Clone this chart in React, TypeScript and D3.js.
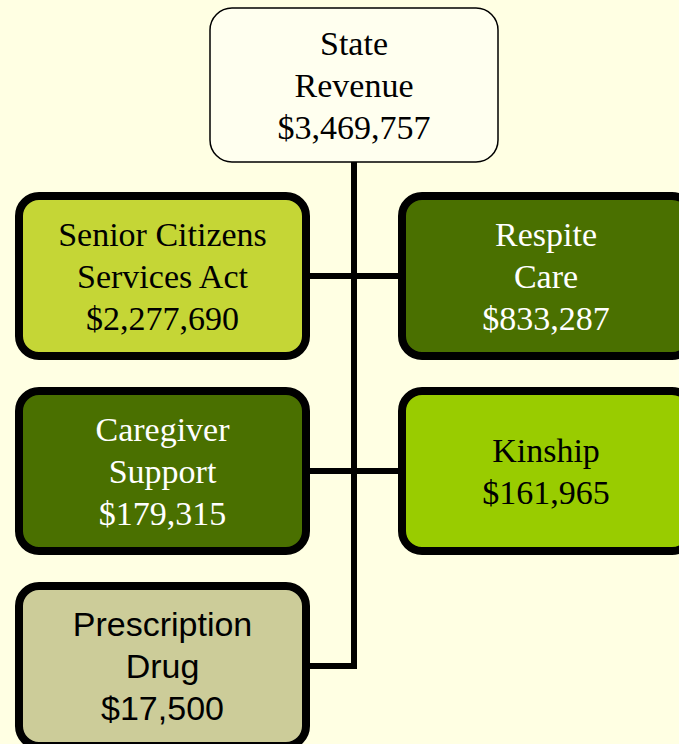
import React from 'react';
import * as d3 from 'd3';

const width = 679;
const height = 744;

// data
const rootLines = ['State', 'Revenue'];
const rootAmount = 3469757;
const programNames = [
  ['Senior Citizens', 'Services Act'],
  ['Respite', 'Care'],
  ['Caregiver', 'Support'],
  ['Kinship'],
  ['Prescription', 'Drug']
];
const programAmounts = [2277690, 833287, 179315, 161965, 17500];

// styling, one per program
const fills = ['#c5d636', '#4a7000', '#4a7000', '#99cc00', '#cccc99'];
const textColors = ['#000', '#fff', '#fff', '#000', '#000'];
const fontFamilies = ['serif', 'serif', 'serif', 'serif', 'sans'];

const fmt = d3.format('$,');

const serif = '"Liberation Serif", "Times New Roman", serif';
const sans = '"Liberation Sans", Arial, sans-serif';

const rowY = d3.scaleLinear().domain([0, 2]).range([196, 586]);
const colX = d3.scaleOrdinal<number, number>().domain([0, 1]).range([19, 402]);
const colW = d3.scaleOrdinal<number, number>().domain([0, 1]).range([287, 290]);
const colTextX = d3.scaleOrdinal<number, number>().domain([0, 1]).range([162.5, 546]);
const boxH = 160;
const lineGap = 42;
const spineX = 354;

const root = { x: 210, y: 8, w: 288, h: 154 };

function Lines({ lines, cx, cy, color, family }) {
  const n = lines.length;
  return (
    <text
      textAnchor="middle"
      fill={color}
      fontFamily={family}
      fontSize={34}
    >
      {lines.map((l, i) => (
        <tspan key={i} x={cx} y={cy + (i - (n - 1) / 2) * lineGap + 12}>
          {l}
        </tspan>
      ))}
    </text>
  );
}

export default function App() {
  const nodes = programNames.map((name, i) => {
    const col = i % 2;
    const row = Math.floor(i / 2);
    const x = colX(col);
    const y = rowY(row);
    return {
      i,
      col,
      x,
      y,
      w: colW(col),
      cy: y + boxH / 2,
      lines: [...name, fmt(programAmounts[i])]
    };
  });
  const lastY = d3.max(nodes, (d) => d.cy) as number;

  return (
    <svg
      width={width}
      height={height}
      style={{ position: 'absolute', left: 0, top: 0, background: '#ffffe3' }}
    >
      <rect width={width} height={height} fill="#ffffe3" />
      {/* connectors */}
      <line
        x1={spineX}
        x2={spineX}
        y1={root.y + root.h}
        y2={lastY + 3}
        stroke="#000"
        strokeWidth={6}
      />
      {nodes.map((d) => (
        <line
          key={'c' + d.i}
          x1={spineX}
          x2={d.col === 0 ? d.x + d.w : d.x}
          y1={d.cy}
          y2={d.cy}
          stroke="#000"
          strokeWidth={6}
        />
      ))}
      {/* root */}
      <rect
        x={root.x}
        y={root.y}
        width={root.w}
        height={root.h}
        rx={22}
        fill="#ffffef"
        stroke="#000"
        strokeWidth={1.5}
      />
      <Lines
        lines={[...rootLines, fmt(rootAmount)]}
        cx={root.x + root.w / 2}
        cy={root.y + root.h / 2}
        color="#000"
        family={serif}
      />
      {nodes.map((d) => (
        <g key={d.i}>
          <rect
            x={d.x}
            y={d.y}
            width={d.w}
            height={boxH}
            rx={20}
            fill={fills[d.i]}
            stroke="#000"
            strokeWidth={8}
          />
          <Lines
            lines={d.lines}
            cx={colTextX(d.col)}
            cy={d.cy}
            color={textColors[d.i]}
            family={fontFamilies[d.i] === 'sans' ? sans : serif}
          />
        </g>
      ))}
    </svg>
  );
}
